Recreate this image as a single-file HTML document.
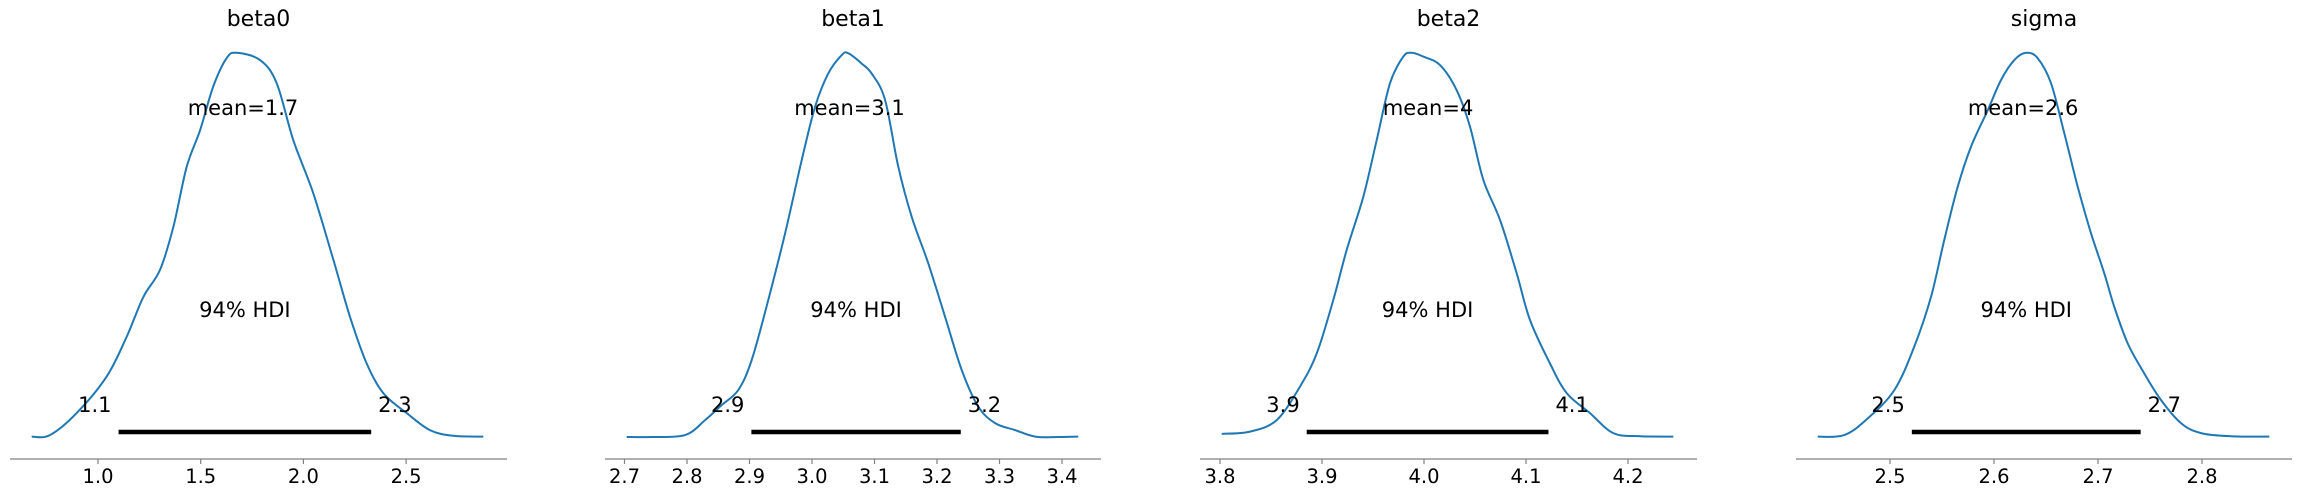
<!DOCTYPE html>
<html><head><meta charset="utf-8"><style>
html,body{margin:0;padding:0;background:#fff;}
svg{display:block;font-family:"DejaVu Sans","Liberation Sans",sans-serif;}
</style></head><body>
<svg id="chart" width="2301" height="497" viewBox="0 0 2301 497" xmlns="http://www.w3.org/2000/svg"></svg>
<script>
// ---- data ----
const panelNames = ["beta0","beta1","beta2","sigma"];
const meanLabels = ["1.7","3.1","4","2.6"];
const meanValues = [1.706, 3.06, 4.004, 2.628];
const hdiLow = [1.10, 2.903, 3.885, 2.521];
const hdiHigh = [2.33, 3.238, 4.122, 2.741];
const hdiLowLabels = ["1.1","2.9","3.9","2.5"];
const hdiHighLabels = ["2.3","3.2","4.1","2.7"];
const tickValues0 = [1.0,1.5,2.0,2.5];
const tickValues1 = [2.7,2.8,2.9,3.0,3.1,3.2,3.3,3.4];
const tickValues2 = [3.8,3.9,4.0,4.1,4.2];
const tickValues3 = [2.5,2.6,2.7,2.8];
const tickLabels0 = ["1.0","1.5","2.0","2.5"];
const tickLabels1 = ["2.7","2.8","2.9","3.0","3.1","3.2","3.3","3.4"];
const tickLabels2 = ["3.8","3.9","4.0","4.1","4.2"];
const tickLabels3 = ["2.5","2.6","2.7","2.8"];
const kdeX0 = [0.677,0.766,0.896,1.042,1.140,1.221,1.302,1.367,1.432,1.497,1.561,1.626,1.675,1.789,1.870,1.951,2.048,2.146,2.227,2.308,2.389,2.503,2.616,2.730,2.876];
const kdeY0 = [0.001,0.005,0.062,0.157,0.261,0.364,0.434,0.546,0.702,0.797,0.91,0.984,0.998,0.979,0.919,0.771,0.633,0.46,0.312,0.191,0.114,0.062,0.018,0.003,0.001];
const kdeX1 = [2.7035,2.7435,2.797,2.829,2.8555,2.882,2.9035,2.930,2.957,2.9835,3.005,3.026,3.0475,3.058,3.0795,3.0955,3.117,3.138,3.1595,3.186,3.213,3.2395,3.266,3.293,3.325,3.357,3.394,3.426];
const kdeY1 = [0,0,0.005,0.044,0.083,0.122,0.2,0.356,0.529,0.719,0.858,0.944,0.992,0.997,0.97,0.944,0.875,0.702,0.572,0.451,0.312,0.174,0.079,0.036,0.018,0.001,0,0.001];
const kdeX2 = [3.8017,3.8294,3.8556,3.8784,3.8948,3.9111,3.9242,3.9405,3.9536,3.9667,3.9797,3.9879,3.9993,4.0157,4.032,4.0451,4.0581,4.0745,4.0909,4.1039,4.1235,4.1399,4.1627,4.1856,4.2118,4.2444];
const kdeY2 = [0.008,0.014,0.044,0.131,0.217,0.356,0.486,0.624,0.771,0.919,0.988,0.998,0.988,0.966,0.901,0.806,0.668,0.564,0.425,0.304,0.191,0.114,0.062,0.01,0.002,0.001];
const kdeX3 = [2.4305,2.4561,2.4785,2.5042,2.5234,2.5394,2.5522,2.5651,2.5779,2.594,2.6067,2.6195,2.6308,2.642,2.6548,2.6676,2.6805,2.6933,2.7061,2.7157,2.7286,2.7445,2.7606,2.7798,2.799,2.8279,2.8647];
const kdeY3 = [0.001,0.005,0.048,0.122,0.235,0.364,0.512,0.65,0.754,0.849,0.927,0.979,0.998,0.984,0.919,0.789,0.65,0.529,0.425,0.338,0.243,0.165,0.096,0.036,0.01,0.002,0.001];

// ---- layout (not data) ----
const axisLeft = [10,605,1200,1796];
const axisRight = [507,1101,1697,2292];
const calib = [[1.0,98,205.4],[3.0,812,625],[4.0,1424,1020],[2.6,1994,1040]];
const allTicks = [tickValues0,tickValues1,tickValues2,tickValues3];
const allTickLabels = [tickLabels0,tickLabels1,tickLabels2,tickLabels3];
const allKX = [kdeX0,kdeX1,kdeX2,kdeX3];
const allKY = [kdeY0,kdeY1,kdeY2,kdeY3];
const yBase = 437, yPeak = 52, axisY = 459, hdiY = 432;
const NS = "http://www.w3.org/2000/svg";
const svg = document.getElementById('chart');
function mk(tag, attrs, parent){const e=document.createElementNS(NS,tag);for(const k in attrs)e.setAttribute(k,attrs[k]);(parent||svg).appendChild(e);return e;}
function txt(s, x, y, size, anchor, parent){const t=mk('text',{x:x,y:y,'font-size':size,'text-anchor':anchor,fill:'#000'},parent);t.textContent=s;return t;}

for(let p=0;p<4;p++){
  const g = mk('g',{});
  
  
  const c = calib[p];
  const xs = v => c[1] + (v - c[0]) * c[2];
  const ys = d => yBase - d * (yBase - yPeak);
  const cx = (axisLeft[p]+axisRight[p])/2;
  const title = txt(panelNames[p], cx, 26, 22, 'middle', g);
  
  
  const ax = mk('line',{x1:axisLeft[p],x2:axisRight[p],y1:axisY,y2:axisY,stroke:'#808080','stroke-width':1.3},g);
  
  
  allTicks[p].forEach((v,i)=>{
    const x = xs(v);
    const tk = mk('line',{x1:x,x2:x,y1:axisY,y2:axisY+5,stroke:'#808080','stroke-width':1.2},g);
    
    
    const tl = txt(allTickLabels[p][i], x, 483, 19.5, 'middle', g);
    
    
  });
  const X = allKX[p], Y = allKY[p];
  const pts = X.map((v,i)=>[xs(v), ys(Y[i])]);
  let d = 'M'+pts[0][0].toFixed(1)+','+pts[0][1].toFixed(1);
  for(let i=0;i<pts.length-1;i++){
    const p0=pts[Math.max(0,i-1)],p1=pts[i],p2=pts[i+1],p3=pts[Math.min(pts.length-1,i+2)];
    const c1=[p1[0]+(p2[0]-p0[0])/6,p1[1]+(p2[1]-p0[1])/6];
    const c2=[p2[0]-(p3[0]-p1[0])/6,p2[1]-(p3[1]-p1[1])/6];
    d+=' C'+c1[0].toFixed(1)+','+c1[1].toFixed(1)+' '+c2[0].toFixed(1)+','+c2[1].toFixed(1)+' '+p2[0].toFixed(1)+','+p2[1].toFixed(1);
  }
  const path = mk('path',{d:d,fill:'none',stroke:'#1f77b4','stroke-width':2},g);
  
  
  const hb = mk('line',{x1:xs(hdiLow[p]),x2:xs(hdiHigh[p]),y1:hdiY,y2:hdiY,stroke:'#000','stroke-width':4.5},g);
  
  
  const hl = txt(hdiLowLabels[p], xs(hdiLow[p])-7, 412, 21, 'end', g);
  
  
  const hh = txt(hdiHighLabels[p], xs(hdiHigh[p])+7, 412, 21, 'start', g);
  
  
  const ht = txt('94% HDI', (xs(hdiLow[p])+xs(hdiHigh[p]))/2, 317, 21, 'middle', g);
  
  
  const mt = txt('mean='+meanLabels[p], xs(meanValues[p]), 115, 21, 'middle', g);
  
  
}
</script>
</body></html>
